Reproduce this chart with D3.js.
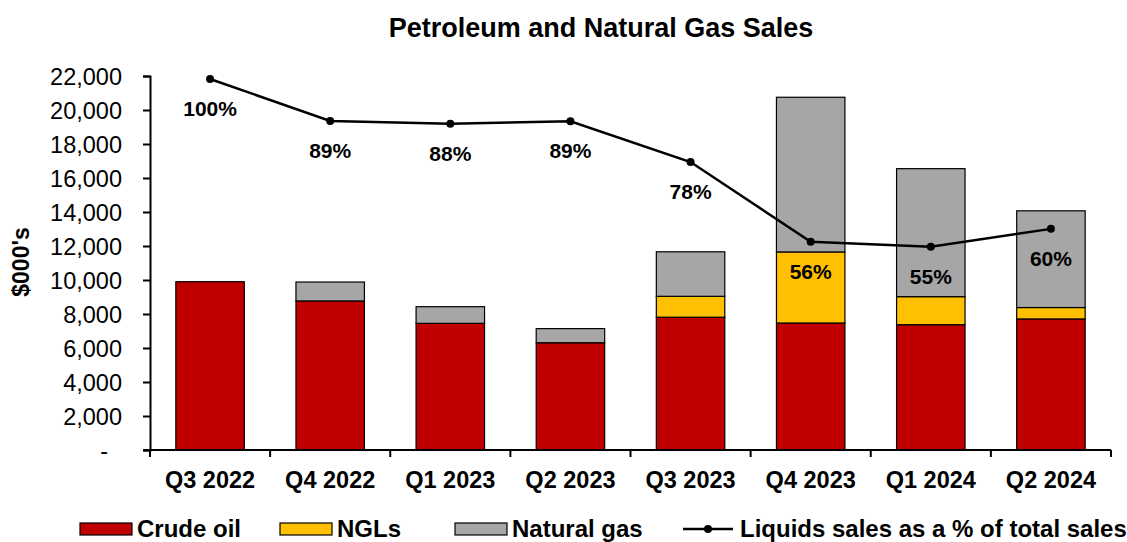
<!DOCTYPE html>
<html>
<head>
<meta charset="utf-8">
<script src="https://cdn.jsdelivr.net/npm/d3@7"></script>
<style>
  body { margin: 0; background: #fff; }
  text { font-family: "Liberation Sans", Arial, sans-serif; fill: #000; }
</style>
</head>
<body>
<div id="chart"></div>
<script>
const WIDTH = 1127;
const HEIGHT = 542;
const MARGIN = { top: 76, right: 16, bottom: 92, left: 150 };

const quarters = ["Q3 2022", "Q4 2022", "Q1 2023", "Q2 2023", "Q3 2023", "Q4 2023", "Q1 2024", "Q2 2024"];
const crudeOil = [9900, 8770, 7450, 6310, 7810, 7470, 7370, 7710];
const ngls = [0, 0, 0, 0, 1230, 4180, 1650, 670];
const naturalGas = [0, 1110, 980, 830, 2620, 9100, 7530, 5690];
const liquidsPct = [1.00, 0.887, 0.879, 0.886, 0.776, 0.561, 0.548, 0.596];
const yTicks = [0, 2000, 4000, 6000, 8000, 10000, 12000, 14000, 16000, 18000, 20000, 22000];

const SERIES = [
  { key: "crude", name: "Crude oil", color: "#C00000" },
  { key: "ngl", name: "NGLs", color: "#FFC000" },
  { key: "gas", name: "Natural gas", color: "#A6A6A6" }
];

const table = quarters.map((q, i) => ({ q: q, crude: crudeOil[i], ngl: ngls[i], gas: naturalGas[i], pct: liquidsPct[i] }));

const svg = d3.select("#chart").append("svg")
  .attr("width", WIDTH)
  .attr("height", HEIGHT);

const x = d3.scaleBand()
  .domain(quarters)
  .range([MARGIN.left, WIDTH - MARGIN.right])
  .paddingInner(0.43)
  .paddingOuter(0.215);

const y = d3.scaleLinear()
  .domain([0, 22000])
  .range([HEIGHT - MARGIN.bottom, MARGIN.top]);

// hidden secondary axis for the % line
const y2 = d3.scaleLinear()
  .domain([0, 1.008])
  .range([HEIGHT - MARGIN.bottom, MARGIN.top]);

// title
svg.append("text")
  .attr("x", 601)
  .attr("y", 37)
  .style("font-size", "27px")
  .style("font-weight", "bold")
  .style("text-anchor", "middle")
  .text("Petroleum and Natural Gas Sales");

// bars
const stacked = d3.stack().keys(SERIES.map(s => s.key))(table);

svg.append("g")
  .selectAll("g")
  .data(stacked)
  .join("g")
  .attr("fill", (d, i) => SERIES[i].color)
  .selectAll("rect")
  .data(d => d.filter(s => s[1] - s[0] > 0))
  .join("rect")
  .attr("x", d => x(d.data.q))
  .attr("width", x.bandwidth())
  .attr("y", d => y(d[1]))
  .attr("height", d => y(d[0]) - y(d[1]))
  .attr("stroke", "#000")
  .attr("stroke-width", 1.2);

// y axis
const yAxis = svg.append("g")
  .attr("transform", `translate(${MARGIN.left}, 0)`)
  .call(d3.axisLeft(y)
    .tickValues(yTicks)
    .tickSize(7)
    .tickPadding(21)
    .tickFormat(d => d === 0 ? "-" : d3.format(",")(d)));

yAxis.select(".domain").attr("stroke", "#000").attr("stroke-width", 2);
yAxis.selectAll(".tick line").attr("stroke", "#000").attr("stroke-width", 2);
yAxis.selectAll(".tick text")
  .style("font-size", "23.5px")
  .style("font-family", "'Liberation Sans', Arial, sans-serif")
  .attr("dy", "0.36em")
  .attr("dx", d => d === 0 ? -14 : 0);

// x axis with ticks at category boundaries
const xAxisY = HEIGHT - MARGIN.bottom;
const xg = svg.append("g");
xg.append("line")
  .attr("x1", MARGIN.left - 7)
  .attr("x2", WIDTH - MARGIN.right)
  .attr("y1", xAxisY)
  .attr("y2", xAxisY)
  .attr("stroke", "#000")
  .attr("stroke-width", 2);

const step = x.step();
const boundaries = quarters.map(q => x(q) - (step - x.bandwidth()) / 2)
  .concat([WIDTH - MARGIN.right]);

xg.selectAll(".xtick")
  .data(boundaries)
  .join("line")
  .attr("class", "xtick")
  .attr("x1", d => d)
  .attr("x2", d => d)
  .attr("y1", xAxisY)
  .attr("y2", xAxisY + 7)
  .attr("stroke", "#000")
  .attr("stroke-width", 2);

xg.selectAll(".xlabel")
  .data(quarters)
  .join("text")
  .attr("class", "xlabel")
  .attr("x", d => x(d) + x.bandwidth() / 2)
  .attr("y", 488)
  .style("font-size", "23.5px")
  .style("font-weight", "bold")
  .style("text-anchor", "middle")
  .text(d => d);

// y axis title
svg.append("text")
  .attr("transform", "translate(29, 262) rotate(-90)")
  .style("font-size", "23px")
  .style("font-weight", "bold")
  .style("text-anchor", "middle")
  .text("$000's");

// % line
const line = d3.line()
  .x(d => x(d.q) + x.bandwidth() / 2)
  .y(d => y2(d.pct));

svg.append("path")
  .datum(table)
  .attr("d", line)
  .attr("fill", "none")
  .attr("stroke", "#000")
  .attr("stroke-width", 2.5);

svg.append("g")
  .selectAll("circle")
  .data(table)
  .join("circle")
  .attr("cx", d => x(d.q) + x.bandwidth() / 2)
  .attr("cy", d => y2(d.pct))
  .attr("r", 4)
  .attr("fill", "#000");

svg.append("g")
  .selectAll("text")
  .data(table)
  .join("text")
  .attr("x", d => x(d.q) + x.bandwidth() / 2)
  .attr("y", d => y2(d.pct) + 37)
  .style("font-size", "21px")
  .style("font-weight", "bold")
  .style("text-anchor", "middle")
  .text(d => d3.format(".0%")(d.pct));

// legend
const legendY = 529;
const legendX = [80, 280, 455];
const legend = svg.append("g");

SERIES.forEach((s, i) => {
  legend.append("rect")
    .attr("x", legendX[i])
    .attr("y", legendY - 6)
    .attr("width", 52)
    .attr("height", 12)
    .attr("fill", s.color)
    .attr("stroke", "#000")
    .attr("stroke-width", 1.2);
  legend.append("text")
    .attr("x", legendX[i] + 57)
    .attr("y", legendY + 8)
    .style("font-size", "24px")
    .style("font-weight", "bold")
    .text(s.name);
});

legend.append("line")
  .attr("x1", 683)
  .attr("x2", 733)
  .attr("y1", legendY)
  .attr("y2", legendY)
  .attr("stroke", "#000")
  .attr("stroke-width", 2.5);
legend.append("circle")
  .attr("cx", 708)
  .attr("cy", legendY)
  .attr("r", 4)
  .attr("fill", "#000");
legend.append("text")
  .attr("x", 740)
  .attr("y", legendY + 8)
  .style("font-size", "24px")
  .style("font-weight", "bold")
  .text("Liquids sales as a % of total sales");
</script>
</body>
</html>
